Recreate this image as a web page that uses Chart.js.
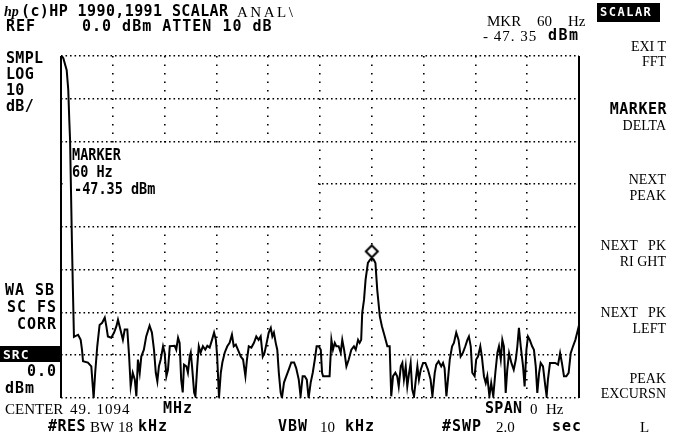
<!DOCTYPE html>
<html>
<head>
<meta charset="utf-8">
<script src="https://cdn.jsdelivr.net/npm/chart.js@4"></script>
<style>
  body { margin: 0; background: #fff; }
  #wrap { position: relative; width: 674px; height: 437px; overflow: hidden; }
  canvas { position: absolute; left: 0; top: 0; }
  .m { position: absolute; font: bold 15px "DejaVu Sans Mono"; letter-spacing: 1px; line-height: 15px; white-space: pre; color: #000; }
  .mk { position: absolute; font: bold 15px "DejaVu Sans Mono"; line-height: 15px; white-space: pre; color: #000; transform: scaleX(0.9); transform-origin: left top; }
  .s { position: absolute; font: 15px "Liberation Serif"; line-height: 15px; white-space: pre; color: #000; }
  .k { position: absolute; right: 8px; font: 14px "Liberation Serif"; line-height: 14px; white-space: pre; text-align: right; }
  .blk { position: absolute; background: #000; }
  .w { color: #fff; }
</style>
</head>
<body>
<div id="wrap">
  <canvas id="myChart" width="674" height="437"></canvas>

  <div class="s" style="left:4px;top:4px;font:italic bold 14px 'Liberation Serif';">hp</div>
  <div class="m" style="left:21px;top:4px;letter-spacing:0.4px;">(c)HP 1990,1991 SCALAR</div>
  <div class="s" style="left:237px;top:5px;letter-spacing:2.5px;">ANAL\</div>
  <div class="m" style="left:6px;top:19px;">REF</div>
  <div class="m" style="left:82px;top:19px;">0.0 dBm ATTEN 10 dB</div>

  <div class="s" style="left:487px;top:14px;">MKR</div>
  <div class="s" style="left:537px;top:14px;">60</div>
  <div class="s" style="left:568px;top:14px;">Hz</div>
  <div class="s" style="left:483px;top:29px;letter-spacing:1px;">- 47. 35</div>
  <div class="m" style="left:548px;top:28px;letter-spacing:1.5px;">dBm</div>

  <div class="blk" style="left:597px;top:3px;width:63px;height:19px;"></div>
  <div class="m w" style="left:600px;top:5px;font-size:12px;letter-spacing:1.5px;">SCALAR</div>

  <div class="m" style="left:6px;top:51px;letter-spacing:0.3px;">SMPL</div>
  <div class="m" style="left:6px;top:67px;letter-spacing:0.3px;">LOG</div>
  <div class="m" style="left:6px;top:83px;letter-spacing:0.3px;">10</div>
  <div class="m" style="left:6px;top:99px;letter-spacing:0.3px;">dB/</div>

  <div class="m" style="left:5px;top:283px;">WA SB</div>
  <div class="m" style="left:7px;top:300px;">SC FS</div>
  <div class="m" style="left:17px;top:317px;">CORR</div>
  <div class="blk" style="left:0px;top:346px;width:60px;height:16px;"></div>
  <div class="m w" style="left:3px;top:347px;font-size:13px;">SRC</div>
  <div class="m" style="left:27px;top:364px;">0.0</div>
  <div class="m" style="left:5px;top:381px;">dBm</div>

  <div class="mk" style="left:72px;top:148px;">MARKER</div>
  <div class="mk" style="left:72px;top:165px;">60 Hz</div>
  <div class="mk" style="left:74px;top:182px;">-47.35 dBm</div>

  <div class="k" style="top:40px;">EXI T</div>
  <div class="k" style="top:55px;">FFT</div>
  <div class="m" style="right:7px;top:102px;letter-spacing:0.5px;">MARKER</div>
  <div class="k" style="top:119px;">DELTA</div>
  <div class="k" style="top:173px;">NEXT</div>
  <div class="k" style="top:189px;">PEAK</div>
  <div class="k" style="top:239px;">NEXT   PK</div>
  <div class="k" style="top:255px;">RI GHT</div>
  <div class="k" style="top:306px;">NEXT   PK</div>
  <div class="k" style="top:322px;">LEFT</div>
  <div class="k" style="top:372px;">PEAK</div>
  <div class="k" style="top:387px;">EXCURSN</div>
  <div class="s" style="left:640px;top:420px;">L</div>

  <div class="s" style="left:5px;top:402px;">CENTER</div>
  <div class="s" style="left:70px;top:402px;letter-spacing:1px;">49. 1094</div>
  <div class="m" style="left:163px;top:401px;">MHz</div>
  <div class="m" style="left:48px;top:419px;letter-spacing:0.5px;">#RES</div>
  <div class="s" style="left:90px;top:420px;">BW</div>
  <div class="s" style="left:118px;top:420px;">18</div>
  <div class="m" style="left:138px;top:419px;">kHz</div>
  <div class="m" style="left:278px;top:419px;">VBW</div>
  <div class="s" style="left:320px;top:420px;">10</div>
  <div class="m" style="left:345px;top:419px;">kHz</div>
  <div class="m" style="left:485px;top:401px;letter-spacing:0.3px;">SPAN</div>
  <div class="s" style="left:530px;top:402px;">0</div>
  <div class="s" style="left:546px;top:402px;">Hz</div>
  <div class="m" style="left:442px;top:419px;">#SWP</div>
  <div class="s" style="left:496px;top:420px;">2.0</div>
  <div class="m" style="left:552px;top:419px;">sec</div>
</div>

<script>
// zero span sweep: time (s) vs level (dBm)
var traceTime = [
    0.003,0.009,0.022,0.028,0.032,0.035,0.042,0.046,0.050,0.066,
    0.076,0.081,0.085,0.104,0.117,0.126,0.132,0.140,0.149,0.159,
    0.169,0.175,0.181,0.194,0.205,0.214,0.220,0.231,0.239,0.246,
    0.256,0.263,0.269,0.277,0.285,0.291,0.297,0.304,0.310,0.320,
    0.329,0.342,0.351,0.359,0.366,0.372,0.378,0.385,0.394,0.400,
    0.407,0.413,0.420,0.439,0.445,0.452,0.458,0.464,0.470,0.475,
    0.484,0.490,0.497,0.501,0.506,0.514,0.519,0.526,0.532,0.539,
    0.548,0.557,0.565,0.574,0.583,0.591,0.598,0.603,0.610,0.617,
    0.623,0.632,0.642,0.651,0.660,0.667,0.675,0.683,0.694,0.703,
    0.712,0.718,0.725,0.735,0.745,0.754,0.763,0.771,0.779,0.786,
    0.794,0.802,0.810,0.816,0.822,0.829,0.835,0.841,0.848,0.853,
    0.861,0.870,0.879,0.889,0.900,0.908,0.918,0.925,0.933,0.941,
    0.949,0.956,0.964,0.972,0.980,0.987,0.995,1.003,1.008,1.012,
    1.037,1.044,1.050,1.057,1.063,1.072,1.080,1.086,1.093,1.102,
    1.111,1.121,1.131,1.138,1.147,1.153,1.159,1.163,1.170,1.176,
    1.185,1.194,1.200,1.207,1.214,1.221,1.231,1.239,1.250,1.260,
    1.269,1.275,1.282,1.291,1.298,1.304,1.312,1.318,1.324,1.331,
    1.337,1.344,1.350,1.356,1.363,1.370,1.376,1.382,1.389,1.398,
    1.407,1.417,1.427,1.434,1.443,1.449,1.458,1.468,1.475,1.481,
    1.488,1.494,1.501,1.510,1.517,1.526,1.535,1.543,1.552,1.561,
    1.569,1.575,1.582,1.588,1.597,1.603,1.610,1.619,1.625,1.633,
    1.640,1.646,1.654,1.661,1.669,1.677,1.685,1.691,1.698,1.704,
    1.710,1.717,1.723,1.730,1.739,1.748,1.756,1.762,1.768,1.775,
    1.784,1.790,1.797,1.803,1.810,1.819,1.826,1.833,1.839,1.846,
    1.852,1.861,1.870,1.875,1.880,1.888,1.896,1.908,1.919,1.927,
    1.934,1.942,1.951,1.960,1.968,1.977,1.986,1.996,2.000
];
var traceLevel = [
    0,-0.5,-3.3,-7.9,-15.0,-19.6,-43.0,-54.7,-65.7,-65.2,
    -66.4,-68.7,-71.4,-71.7,-72.6,-80,-74.1,-67.9,-62.9,-62.4,
    -61.2,-63.2,-65.6,-65.9,-64.7,-63.2,-61.7,-64.4,-66.4,-64.0,
    -64.0,-70.3,-77.3,-74.1,-75.7,-79.6,-71.0,-74.1,-70.3,-68.7,
    -65.6,-63.1,-64.7,-68.7,-74.1,-76.1,-72.6,-71.0,-67.9,-69.4,
    -74.9,-73.4,-67.9,-67.8,-68.7,-65.9,-67.1,-75.7,-78.7,-72.2,
    -72.6,-74.1,-70.3,-69.4,-72.6,-78.7,-79.6,-72.6,-67.9,-69.4,
    -67.9,-68.7,-67.8,-68.2,-66.4,-64.7,-66.4,-70.3,-79.9,-74.1,
    -71.7,-69.4,-67.9,-67.1,-65.2,-67.9,-67.5,-68.7,-70.3,-71.0,
    -74.9,-71.0,-67.9,-68.2,-67.1,-65.6,-66.4,-65.6,-70.3,-69.4,
    -67.1,-64.7,-63.6,-65.6,-64.7,-67.1,-68.7,-74.1,-78.7,-80,
    -76.4,-74.9,-73.4,-71.7,-71.7,-73.0,-75.7,-79.6,-74.9,-74.9,
    -75.7,-80,-76.4,-74.1,-71.0,-67.9,-67.9,-68.7,-74.1,-74.9,
    -74.9,-66.4,-68.7,-67.1,-67.9,-67.9,-69.4,-66.4,-68.7,-72.6,
    -71.0,-68.7,-67.9,-68.7,-66.4,-67.1,-66.4,-60.1,-57.0,-52.3,
    -48.4,-47.6,-47.35,-47.6,-48.4,-54.7,-60.9,-63.2,-65.6,-67.9,
    -67.9,-79.6,-74.9,-74.1,-74.9,-77.3,-72.6,-71.8,-75.7,-72.6,
    -77.3,-74.1,-71.8,-78.0,-79.6,-75.7,-72.6,-75.7,-73.4,-71.8,
    -71.8,-73.4,-75.7,-79.6,-74.1,-72.2,-71.4,-72.6,-71.8,-73.0,
    -79.6,-75.7,-71.0,-67.9,-67.1,-64.7,-66.4,-70.3,-69.4,-67.9,
    -66.4,-65.6,-67.9,-74.1,-74.9,-71.0,-70.3,-67.9,-70.3,-74.9,
    -76.5,-74.9,-79.6,-76.5,-79.6,-74.1,-69.4,-67.9,-71.0,-66.4,
    -67.9,-78.8,-73.4,-69.5,-71.8,-73.4,-71.0,-67.9,-63.6,-67.9,
    -72.6,-77.3,-68.7,-65.6,-66.4,-67.9,-68.7,-72.6,-78.8,-74.1,
    -71.8,-72.6,-77.3,-79.6,-75.7,-71.8,-71.8,-71.8,-72.2,-69.5,
    -71.8,-74.9,-74.9,-74.1,-69.5,-67.9,-66.4,-64.0,-63.0
];

var markerTime = [1.2];
var markerLevel = [-47.35];

// screen: 10 dB/div, 8 divs down from REF 0 dBm, 2.0 s sweep in 10 divs
var refLevel = 0;
var bottomLevel = -80;
var sweepTime = 2.0;

function diamond() {
    // marker symbol sits just above the trace point
    var c = document.createElement('canvas');
    c.width = 16;
    c.height = 30;
    var g = c.getContext('2d');
    g.beginPath();
    g.moveTo(8, 2);
    g.lineTo(14, 8);
    g.lineTo(8, 14);
    g.lineTo(2, 8);
    g.closePath();
    g.fillStyle = '#fff';
    g.fill();
    g.lineWidth = 2;
    g.strokeStyle = '#000';
    g.stroke();
    return c;
}

// the marker readout blanks part of the graticule
var blankBox = {
    id: 'blankBox',
    beforeDatasetsDraw: function(chart) {
        var x = chart.scales.x, y = chart.scales.y;
        var ctx = chart.ctx;
        var x0 = x.getPixelForValue(0) + 2;
        var x1 = x.getPixelForValue(1.0) - 2;
        var y0 = y.getPixelForValue(-20) + 2;
        var y1 = y.getPixelForValue(-40) - 2;
        ctx.save();
        ctx.fillStyle = '#fff';
        ctx.fillRect(x0, y0, x1 - x0, y1 - y0);
        ctx.restore();
    }
};

function create_chart() {
    var ctx = document.getElementById('myChart').getContext('2d');
    globalThis.chart = new Chart(ctx, {
        type: 'scatter',
        data: {
            datasets: [{
                label: 'Trace',
                data: traceTime.map((t, i) => ({x: t, y: traceLevel[i]})),
                showLine: true,
                borderColor: '#000',
                borderWidth: 2,
                pointRadius: 0,
                tension: 0,
                order: 2
            }, {
                label: 'Marker',
                data: markerTime.map((t, i) => ({x: t, y: markerLevel[i]})),
                showLine: false,
                pointStyle: diamond(),
                pointRadius: 6,
                order: 1
            }]
        },
        options: {
            responsive: false,
            animation: false,
            devicePixelRatio: 1,
            layout: {
                padding: {left: 61, right: 95, top: 56, bottom: 39}
            },
            plugins: {
                legend: {display: false},
                tooltip: {enabled: false}
            },
            scales: {
                x: {
                    type: 'linear',
                    min: 0,
                    max: sweepTime,
                    ticks: {display: false, stepSize: 0.2},
                    grid: {
                        color: '#000',
                        drawTicks: false,
                        lineWidth: (c) => (c.index === 0 || c.index === 10) ? 2 : 1.6
                    },
                    border: {
                        display: false,
                        dash: (c) => (c.index === 0 || c.index === 10) ? [] : [1.6, 6.9]
                    }
                },
                y: {
                    min: bottomLevel,
                    max: refLevel,
                    ticks: {display: false, stepSize: 10},
                    grid: {
                        color: '#000',
                        drawTicks: false,
                        lineWidth: 1.6
                    },
                    border: {
                        display: false,
                        dash: [1.6, 2.9]
                    }
                }
            }
        },
        plugins: [blankBox]
    });
}

create_chart();
</script>
</body>
</html>
